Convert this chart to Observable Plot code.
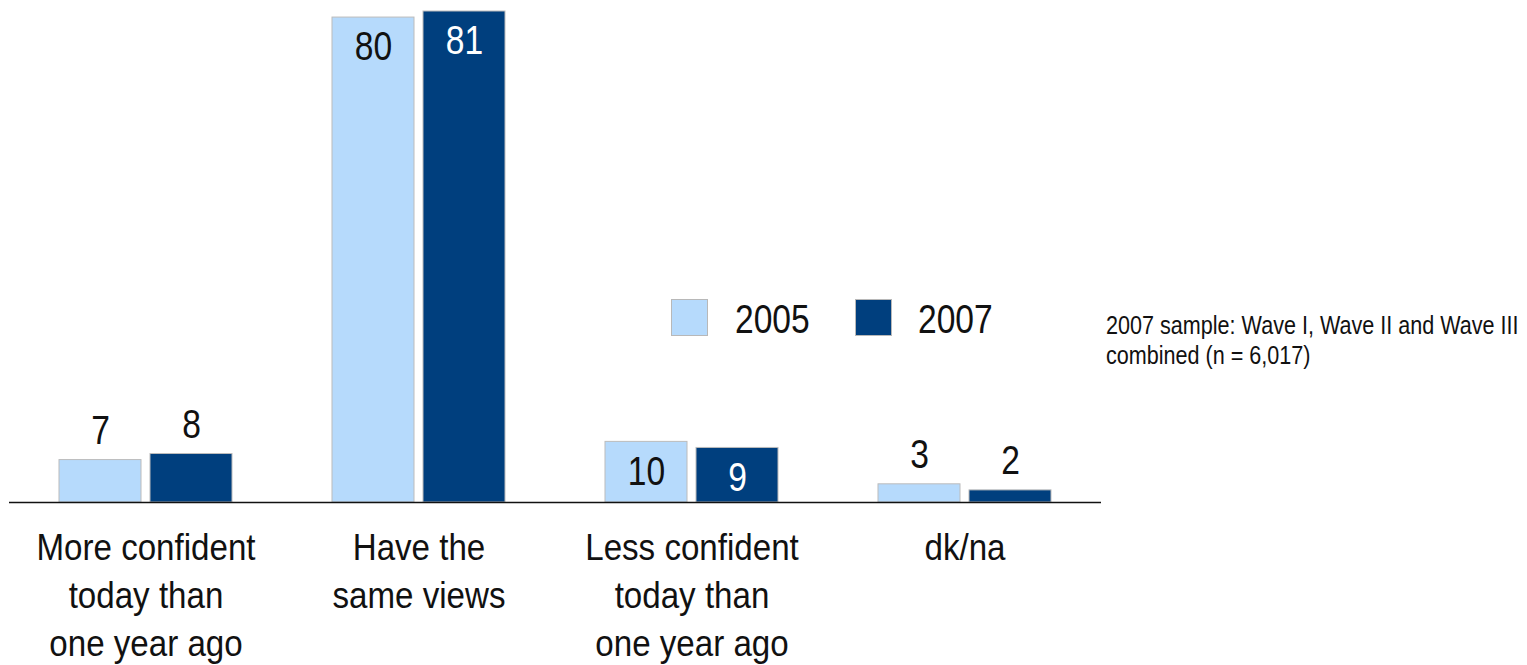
<!DOCTYPE html>
<html>
<head>
<meta charset="utf-8">
<script src="https://cdn.jsdelivr.net/npm/d3@7"></script>
<script src="https://cdn.jsdelivr.net/npm/@observablehq/plot@0.6"></script>
<style>
  html, body { margin: 0; padding: 0; background: #fff; }
  #wrap { position: relative; width: 1527px; height: 665px; font-family: 'Liberation Sans', Arial, sans-serif; color: #111; overflow: hidden; }
  .sw { position: absolute; width: 37px; height: 37px; box-sizing: border-box; border: 1px solid #b8b8b8; }
  .lt { position: absolute; font-size: 40px; line-height: 40px; transform: scaleX(0.84); transform-origin: left center; }
  #note { position: absolute; left: 1106px; top: 310px; font-size: 26px; line-height: 30px; white-space: nowrap; transform: scaleX(0.83); transform-origin: left top; }
</style>
</head>
<body>
<div id="wrap"></div>
<script>
const categories = ["More confident\ntoday than\none year ago", "Have the\nsame views", "Less confident\ntoday than\none year ago", "dk/na"];
const years = ["2005", "2007"];
const values2005 = [7, 80, 10, 3];
const values2007 = [8, 81, 9, 2];
const colors = ["#b6dafc", "#003f7e"];
const noteText = "2007 sample: Wave I, Wave II and Wave III<br>combined (n = 6,017)";

const data = [];
categories.forEach((c, i) => {
  data.push({category: c, year: years[0], value: values2005[i]});
  data.push({category: c, year: years[1], value: values2007[i]});
});
const inside = data.filter(d => d.value >= 9);
const above = data.filter(d => d.value < 9);

const chart = Plot.plot({
  width: 1527,
  height: 665,
  marginLeft: 9,
  marginRight: 426,
  marginTop: 11,
  marginBottom: 163,
  style: {fontFamily: "'Liberation Sans', Arial, sans-serif", background: "#fff", color: "#111"},
  fx: {domain: categories, paddingInner: 0, paddingOuter: 0, label: null},
  x: {domain: years, paddingInner: 0.1, paddingOuter: 0.55, axis: null},
  y: {domain: [0, 81], axis: null},
  color: {domain: years, range: colors},
  marks: [
    Plot.barY(data, {fx: "category", x: "year", y: "value", fill: "year", stroke: "#bcbcbc", strokeWidth: 1}),
    Plot.ruleY([0], {stroke: "#111", strokeWidth: 1.5}),
    Plot.text(inside, {fx: "category", x: "year", y: "value", text: d => String(d.value), dy: 30, fontSize: 40,
      fill: d => d.year === "2007" ? "#ffffff" : "#111111", className: "vals"}),
    Plot.text(above, {fx: "category", x: "year", y: "value", text: d => String(d.value), dy: -29, fontSize: 40,
      fill: "#111111", className: "vals"}),
    Plot.axisFx({anchor: "bottom", tickSize: 0, tickPadding: 23, fontSize: 36, lineHeight: 1.333, label: null, lineAnchor: "top", className: "cats"})
  ]
});

const wrap = document.getElementById("wrap");
wrap.appendChild(chart);

// condense the SVG texts to mimic the narrow typeface of the original
function condense(selector, ratio) {
  chart.querySelectorAll(selector).forEach(t => {
    const tspans = t.querySelectorAll("tspan");
    const els = tspans.length ? Array.from(tspans) : [t];
    els.forEach(el => {
      const len = el.getComputedTextLength();
      if (len > 0) {
        el.setAttribute("textLength", (len * ratio).toFixed(2));
        el.setAttribute("lengthAdjust", "spacingAndGlyphs");
      }
    });
  });
}
condense(".vals text", 0.84);
condense(".cats text", 0.92);

// legend
const legendItems = [
  {label: years[0], color: colors[0], sx: 671, tx: 735},
  {label: years[1], color: colors[1], sx: 855, tx: 918}
];
legendItems.forEach(it => {
  const sw = document.createElement("div");
  sw.className = "sw";
  sw.style.left = it.sx + "px";
  sw.style.top = "299px";
  sw.style.background = it.color;
  wrap.appendChild(sw);
  const t = document.createElement("div");
  t.className = "lt";
  t.style.left = it.tx + "px";
  t.style.top = "299px";
  t.textContent = it.label;
  wrap.appendChild(t);
});
const note = document.createElement("div");
note.id = "note";
note.innerHTML = noteText;
wrap.appendChild(note);
</script>
</body>
</html>
